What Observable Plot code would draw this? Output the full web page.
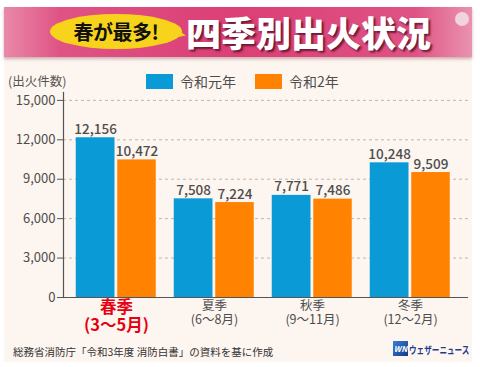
<!DOCTYPE html>
<html>
<head>
<meta charset="utf-8">
<script src="https://cdn.jsdelivr.net/npm/d3@7"></script>
<script src="https://cdn.jsdelivr.net/npm/@observablehq/plot@0.6"></script>
<style>
  html, body { margin: 0; padding: 0; background: #fff; }
  body { width: 480px; height: 367px; overflow: hidden; font-family: "Noto Sans CJK JP", "Noto Sans", sans-serif; }
  #wrap { position: relative; width: 480px; height: 367px; }
  #card { position: absolute; left: 4px; top: 7px; width: 468px; height: 355px; background: #fdf5ef; }
  #header { position: absolute; left: 4px; top: 7px; width: 468px; height: 50px;
    background: linear-gradient(90deg, #e989a9 0%, #df5384 12%, #db3f75 50%, #df5384 88%, #ea93b0 100%);
    box-shadow: 0 2px 3px rgba(120,40,60,0.35); }
  #bubble { position: absolute; left: 50px; top: 14px; width: 132px; height: 35px; border-radius: 50%;
    background: #f8d31c; }
  #tail { position: absolute; left: 172px; top: 28px; width: 0; height: 0;
    border-top: 6px solid transparent; border-bottom: 6px solid transparent; border-left: 14px solid #f8d31c; transform: rotate(12deg); }
  #bubbleText { position: absolute; left: 50px; top: 14px; width: 132px; height: 35px; line-height: 35px; text-align: center;
    font-size: 20px; font-weight: 700; color: #111; letter-spacing: -0.5px; }
  #title { position: absolute; left: 186px; top: 9px; font-size: 35px; line-height: 46px; font-weight: 900; color: #fff;
    letter-spacing: 0px; text-shadow: 2px 2px 2px rgba(70,10,30,0.75); }
  #icon { position: absolute; left: 455px; top: 12px; width: 14px; height: 14px; border-radius: 50%; background: #f1d3df; }
  #ylabel { position: absolute; left: 8px; top: 71px; font-size: 12.5px; color: #555; }
  .leg { position: absolute; top: 72px; font-size: 14px; color: #4d4d4d; line-height: 18px; }
  .sw { position: absolute; top: 74px; width: 27px; height: 15px; }
  #plot { position: absolute; left: 0; top: 0; }
  #source { position: absolute; left: 13px; top: 344px; font-size: 10.5px; color: #333; white-space: nowrap; }
  #logoBox { position: absolute; left: 393px; top: 341px; width: 15px; height: 15px;
    background: linear-gradient(135deg, #3a7fd0, #123a8a); color: #fff; font-size: 8px; font-weight: 700; font-style: italic;
    line-height: 15px; text-align: center; }
  #logoText { position: absolute; left: 409px; top: 342px; font-size: 10px; color: #1d3c8c; font-weight: 700; white-space: nowrap;
    transform: scaleX(0.76); transform-origin: left center; }
</style>
</head>
<body>
<div id="wrap">
  <div id="card"></div>
  <div id="header"></div>
  <div id="tail"></div>
  <div id="bubble"></div>
  <div id="bubbleText">春が最多!</div>
  <div id="title">四季別出火状況</div>
  <div id="icon"></div>
  <div id="ylabel">(出火件数)</div>
  <div class="sw" id="sw1" style="left:146px;"></div>
  <div class="leg" id="leg1" style="left:180px;"></div>
  <div class="sw" id="sw2" style="left:255px;"></div>
  <div class="leg" id="leg2" style="left:289px;"></div>
  <div id="plot"></div>
  <div id="source">総務省消防庁「令和3年度 消防白書」の資料を基に作成</div>
  <div id="logoBox">WN</div>
  <div id="logoText">ウェザーニュース</div>
</div>
<script>
const seasons = ["春季", "夏季", "秋季", "冬季"];
const months = ["(3〜5月)", "(6〜8月)", "(9〜11月)", "(12〜2月)"];
const seriesNames = ["令和元年", "令和2年"];
const reiwa1 = [12156, 7508, 7771, 10248];
const reiwa2 = [10472, 7224, 7486, 9509];
const yTicks = [0, 3000, 6000, 9000, 12000, 15000];
const colors = ["#0a9ad6", "#ff8200"];

document.getElementById("sw1").style.background = colors[0];
document.getElementById("sw2").style.background = colors[1];
document.getElementById("leg1").textContent = seriesNames[0];
document.getElementById("leg2").textContent = seriesNames[1];

const rows1 = seasons.map((s, i) => ({season: s, month: months[i], value: reiwa1[i]}));
const rows2 = seasons.map((s, i) => ({season: s, month: months[i], value: reiwa2[i]}));
const labels = seasons.map((s, i) => ({season: s, month: months[i], first: i === 0}));
const fmt = d3.format(",");

const chart = Plot.plot({
  width: 480,
  height: 367,
  marginTop: 92,
  marginBottom: 70,
  marginLeft: 63,
  marginRight: 12,
  style: {background: "transparent", fontFamily: "'Noto Sans CJK JP', sans-serif", overflow: "visible"},
  x: {domain: seasons, paddingInner: 0, paddingOuter: 0.0558, align: 0.34, axis: null},
  y: {domain: [0, 15600], axis: null},
  marks: [
    Plot.gridY(yTicks.filter(d => d > 0), {stroke: "#bdb6b0", strokeOpacity: 1, strokeDasharray: "3,3"}),
    Plot.barY(rows1, {x: "season", y: "value", fill: colors[0], insetLeft: 8.75, insetRight: 50.5}),
    Plot.barY(rows2, {x: "season", y: "value", fill: colors[1], insetLeft: 50.25, insetRight: 9.25}),
    Plot.text(rows1, {x: "season", y: "value", text: d => fmt(d.value), dx: -20.9, dy: -4, lineAnchor: "bottom", fontSize: 13.5, fontWeight: 500, fill: "#4d4d4d"}),
    Plot.text(rows2, {x: "season", y: "value", text: d => fmt(d.value), dx: 20.5, dy: -4, lineAnchor: "bottom", fontSize: 13.5, fontWeight: 500, fill: "#4d4d4d"}),
    Plot.ruleY([0], {stroke: "#555", strokeWidth: 1.2}),
    Plot.frame({anchor: "left", stroke: "#555", strokeWidth: 1.2}),
    Plot.axisY({ticks: yTicks, label: null, tickSize: 6, tickPadding: 2, tickFormat: fmt, fontSize: 13, stroke: "#555", fill: "#4d4d4d"}),
    Plot.text(labels.filter(d => d.first), {x: "season", y: () => 0, text: d => d.season + "\n" + d.month, dy: 3, lineAnchor: "top", lineHeight: 1.08, fontSize: 16.5, fontWeight: 700, fill: "#e60012"}),
    Plot.text(labels.filter(d => !d.first), {x: "season", y: () => 0, text: d => d.season + "\n" + d.month, dy: 3, lineAnchor: "top", lineHeight: 1.12, fontSize: 12.5, fill: "#4d4d4d"})
  ]
});
document.getElementById("plot").appendChild(chart);
</script>
</body>
</html>
